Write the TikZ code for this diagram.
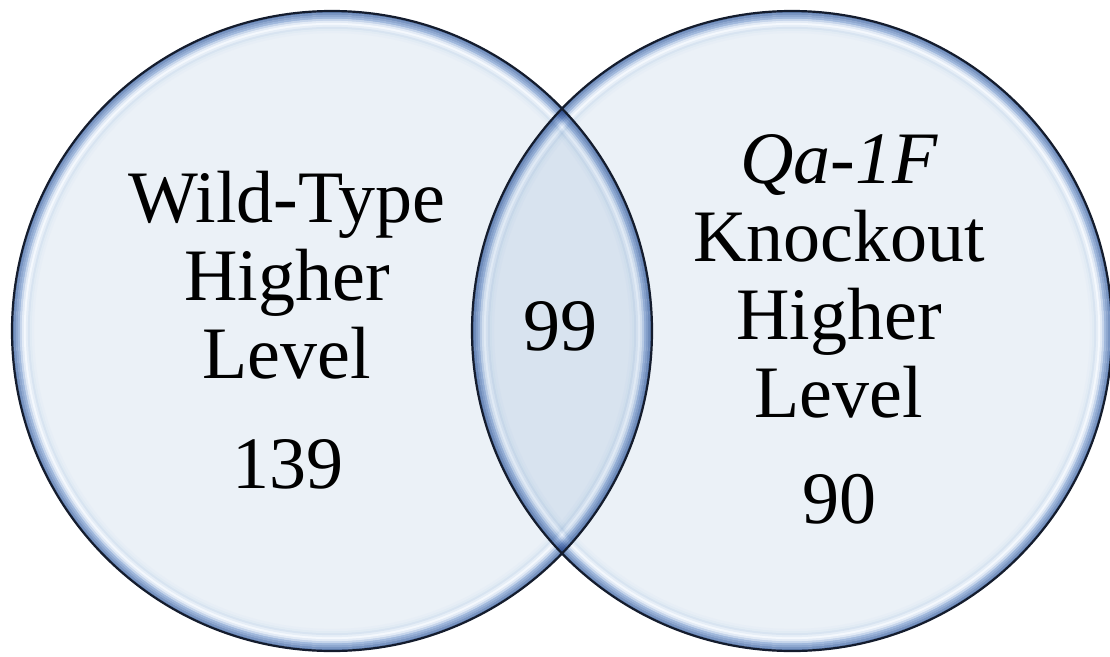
\documentclass[tikz,border=0pt]{standalone}
\usepackage{fontspec}
\setmainfont{Liberation Serif}
\usetikzlibrary{positioning}
\definecolor{vennin}{RGB}{235,241,247}
\definecolor{vennband}{RGB}{216,228,241}
\definecolor{vennhi}{RGB}{244,248,253}
\definecolor{vennmid}{RGB}{160,184,220}
\definecolor{vennedge}{RGB}{98,128,178}
\definecolor{vennline}{RGB}{20,28,45}
\tikzset{
  venn fill/.style={
    fill=vennin
  },
  venn ring/.style={
    line width=2.3pt
  },
  venn rim/.style={
    draw=vennline,
    line width=2.2pt
  },
  set label/.style={
    font=\fontsize{74}{78}\selectfont,
    align=center,
    anchor=base,
    inner sep=0pt
  }
}
% 一个集合: 底色加内缘的渐变环
\newcommand{\vennset}[1]{%
  \begin{scope}[transparency group]
    \fill[venn fill] (#1) circle (320);
    \foreach \d/\c in {1/vennedge, 3/vennedge!65!vennmid, 5/vennedge!30!vennmid,
        7/vennmid, 9/vennmid!55!vennhi, 11/vennmid!20!vennhi, 13/vennhi,
        15/vennhi!50!vennband, 17/vennband, 19/vennband!50!vennin,
        21/vennband!20!vennin}
      \draw[venn ring, \c] (#1) circle (320-\d);
  \end{scope}}
\begin{document}
\begin{tikzpicture}[x=1pt, y=-1pt]
    % 画布: 1 单位 = 1 像素, 原点在左上角
    \useasboundingbox (0,0) rectangle (1110,656);
    \coordinate (wt) at (332,331);
    \coordinate (ko) at (792,331);

    % 两个集合, 重叠处相乘变深
    \begin{scope}[blend mode=multiply]
      \vennset{wt}
      \vennset{ko}
    \end{scope}
    \draw[venn rim] (wt) circle (320);
    \draw[venn rim] (ko) circle (320);

    % 左: 野生型 (基线取末行)
    \node[set label] (wtname) at (287,378) {Wild-Type\\Higher\\Level};
    \node[set label] (wtnum) at (288,488) {139};

    % 交集
    \node[set label] (both) at (560,350) {99};

    % 右: 敲除
    \node[set label] (koname) at (839,417) {\textit{Qa-1F}\\Knockout\\Higher\\Level};
    \node[set label] (konum) at (839,523) {90};
\end{tikzpicture}
\end{document}
